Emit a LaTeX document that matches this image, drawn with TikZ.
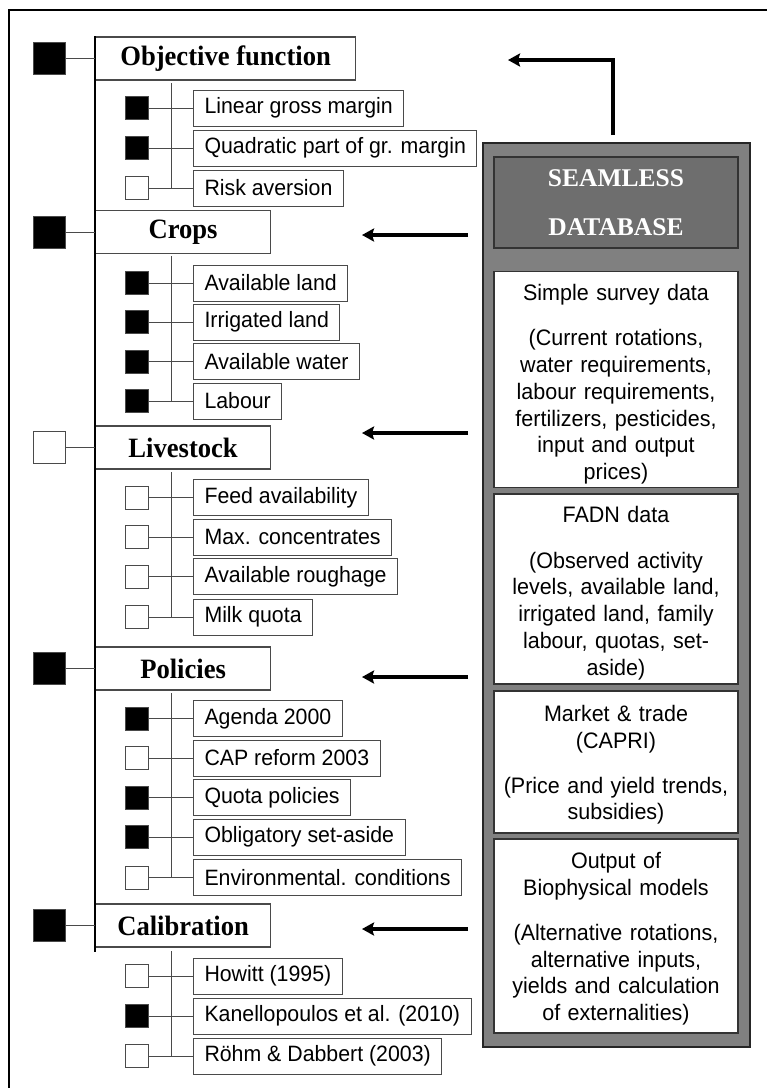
\documentclass[tikz,border=0pt]{standalone}
\usepackage{fontspec}
\setmainfont{Liberation Sans}[FakeStretch=0.96]
\newfontfamily\hdfont{Liberation Serif}[FakeStretch=0.95]
\newfontfamily\dbfont{Liberation Serif}
\usetikzlibrary{arrows.meta}
\definecolor{panelgray}{HTML}{808080}
\definecolor{headgray}{HTML}{6E6E6E}
\definecolor{edgegray}{HTML}{4A4A4A}
\tikzset{
  heading/.style={draw=edgegray,line width=1.2pt,anchor=west,minimum height=43pt,
    inner sep=0pt,font=\hdfont\bfseries\fontsize{28}{32}\selectfont},
  item/.style={draw=edgegray,line width=1pt,anchor=west,minimum height=36pt,
    inner xsep=11pt,inner ysep=0pt,font=\fontsize{22.2}{26}\selectfont},
  bigon/.style={draw=edgegray,line width=1pt,fill=black,minimum size=32pt,inner sep=0pt},
  bigoff/.style={bigon,fill=white},
  smallon/.style={draw=edgegray,line width=1pt,fill=black,minimum size=23pt,inner sep=0pt},
  smalloff/.style={smallon,fill=white},
  link/.style={draw=edgegray,line width=1pt},
  spine/.style={line width=2.5pt},
  arr/.style={line width=4pt,-{Stealth[length=12pt,width=13pt,inset=2pt]}},
  dbbox/.style={draw=black!80,line width=1.2pt,fill=white,minimum width=244pt,
    text width=236pt,align=center,font=\fontsize{22.4}{26.7}\selectfont},
}

\begin{document}
\begin{tikzpicture}[x=1pt,y=-1pt]
\useasboundingbox (0,0) rectangle (767,1088);
\draw[line width=2.7pt] (9,1088) -- (9,10) -- (767,10);

\node[heading,minimum width=260pt] (hobj) at (95,58.5) {Objective function};
\node[heading,minimum width=175pt] (hcrop) at (95,232) {Crops};
\node[heading,minimum width=175pt] (hlive) at (95,447.5) {Livestock};
\node[heading,minimum width=175pt] (hpol) at (95,668.5) {Policies};
\node[heading,minimum width=175pt] (hcal) at (95,925.5) {Calibration};

\node[bigon] (bobj) at (49,58.5) {};
\node[bigon] (bcrop) at (49,232) {};
\node[bigoff] (blive) at (49,447.5) {};
\node[bigon] (bpol) at (49,668.5) {};
\node[bigon] (bcal) at (49,925.5) {};

\coordinate (spinebot) at (95,952);
\draw[spine] (hobj.north west) -- (spinebot);
\draw[link] (bobj) -- (hobj);
\draw[link] (bcrop) -- (hcrop);
\draw[link] (blive) -- (hlive);
\draw[link] (bpol) -- (hpol);
\draw[link] (bcal) -- (hcal);

\node[item] (iobj1) at (193,108) {Linear gross margin};
\node[item] (iobj2) at (193,148) {Quadratic part of gr. margin};
\node[item] (iobj3) at (193,188) {Risk aversion};
\node[smallon] (sobj1) at (136.5,108) {};
\node[smallon] (sobj2) at (136.5,148) {};
\node[smalloff] (sobj3) at (136.5,188) {};

\node[item] (icrop1) at (193,283) {Available land};
\node[item] (icrop2) at (193,322) {Irrigated land};
\node[item] (icrop3) at (193,361.5) {Available water};
\node[item] (icrop4) at (193,401) {Labour};
\node[smallon] (scrop1) at (136.5,283) {};
\node[smallon] (scrop2) at (136.5,322) {};
\node[smallon] (scrop3) at (136.5,361.5) {};
\node[smallon] (scrop4) at (136.5,401) {};

\node[item] (ilive1) at (193,497.5) {Feed availability};
\node[item] (ilive2) at (193,537) {Max. concentrates};
\node[item] (ilive3) at (193,576.5) {Available roughage};
\node[item] (ilive4) at (193,617) {Milk quota};
\node[smalloff] (slive1) at (136.5,497.5) {};
\node[smalloff] (slive2) at (136.5,537) {};
\node[smalloff] (slive3) at (136.5,576.5) {};
\node[smalloff] (slive4) at (136.5,617) {};

\node[item] (ipol1) at (193,718.5) {Agenda 2000};
\node[item] (ipol2) at (193,758) {CAP reform 2003};
\node[item] (ipol3) at (193,797.5) {Quota policies};
\node[item] (ipol4) at (193,837) {Obligatory set-aside};
\node[item] (ipol5) at (193,877.5) {Environmental. conditions};
\node[smallon] (spol1) at (136.5,718.5) {};
\node[smalloff] (spol2) at (136.5,758) {};
\node[smallon] (spol3) at (136.5,797.5) {};
\node[smallon] (spol4) at (136.5,837) {};
\node[smalloff] (spol5) at (136.5,877.5) {};

\node[item] (ical1) at (193,976) {Howitt (1995)};
\node[item] (ical2) at (193,1016) {Kanellopoulos et al. (2010)};
\node[item] (ical3) at (193,1056) {Röhm \& Dabbert (2003)};
\node[smalloff] (scal1) at (136.5,976) {};
\node[smallon] (scal2) at (136.5,1016) {};
\node[smalloff] (scal3) at (136.5,1056) {};

\coordinate (vobj) at (171,83);
\coordinate (vcrop) at (171,256);
\coordinate (vlive) at (171,472);
\coordinate (vpol) at (171,693);
\coordinate (vcal) at (171,951);
\draw[link] (vobj) -- (vobj |- iobj3);
\draw[link] (vcrop) -- (vcrop |- icrop4);
\draw[link] (vlive) -- (vlive |- ilive4);
\draw[link] (vpol) -- (vpol |- ipol5);
\draw[link] (vcal) -- (vcal |- ical3);

\draw[link] (sobj1) -- (iobj1);
\draw[link] (sobj2) -- (iobj2);
\draw[link] (sobj3) -- (iobj3);
\draw[link] (scrop1) -- (icrop1);
\draw[link] (scrop2) -- (icrop2);
\draw[link] (scrop3) -- (icrop3);
\draw[link] (scrop4) -- (icrop4);
\draw[link] (slive1) -- (ilive1);
\draw[link] (slive2) -- (ilive2);
\draw[link] (slive3) -- (ilive3);
\draw[link] (slive4) -- (ilive4);
\draw[link] (spol1) -- (ipol1);
\draw[link] (spol2) -- (ipol2);
\draw[link] (spol3) -- (ipol3);
\draw[link] (spol4) -- (ipol4);
\draw[link] (spol5) -- (ipol5);
\draw[link] (scal1) -- (ical1);
\draw[link] (scal2) -- (ical2);
\draw[link] (scal3) -- (ical3);

\node[draw=black!85,line width=1.2pt,fill=panelgray,minimum width=267pt,
  minimum height=904pt] (db) at (616.5,595) {};
\node[draw=black!80,line width=1.2pt,fill=headgray,minimum width=244pt,
  minimum height=91pt,align=center,text=white,
  font=\dbfont\bfseries\fontsize{25.5}{49}\selectfont] (dbhead) at (616,202.5)
  {SEAMLESS\\DATABASE};
\node[dbbox,minimum height=215pt] (survey) at (616,379.5)
  {\rule{0pt}{26pt}Simple survey data\\[18.3pt](Current rotations,\\water requirements,\\labour requirements,\\fertilizers, pesticides,\\input and output\\prices)};
\node[dbbox,minimum height=190pt] (fadn) at (616,589)
  {\rule{0pt}{24pt}FADN data\\[19.3pt](Observed activity\\levels, available land,\\irrigated land, family\\labour, quotas, set-\\aside)};
\node[dbbox,minimum height=142pt] (capri) at (616,762)
  {\rule{0pt}{22pt}Market \& trade\\(CAPRI)\\[18.3pt](Price and yield trends,\\subsidies)};
\node[dbbox,minimum height=194pt] (bio) at (616,936)
  {\rule{0pt}{22pt}Output of\\Biophysical models\\[18.3pt](Alternative rotations,\\alternative inputs,\\yields and calculation\\of externalities)};

\coordinate (upfrom) at (613,135);
\coordinate (upbend) at (613,60);
\coordinate (upto) at (508,60);
\draw[arr] (upfrom) -- (upbend) -- (upto);
\coordinate (fromcrop) at (468,235);
\coordinate (tocrop) at (362,235);
\coordinate (fromlive) at (468,433);
\coordinate (tolive) at (362,433);
\coordinate (frompol) at (468,677);
\coordinate (topol) at (362,677);
\coordinate (fromcal) at (468,929);
\coordinate (tocal) at (362,929);
\draw[arr] (fromcrop) -- (tocrop);
\draw[arr] (fromlive) -- (tolive);
\draw[arr] (frompol) -- (topol);
\draw[arr] (fromcal) -- (tocal);
\end{tikzpicture}
\end{document}
